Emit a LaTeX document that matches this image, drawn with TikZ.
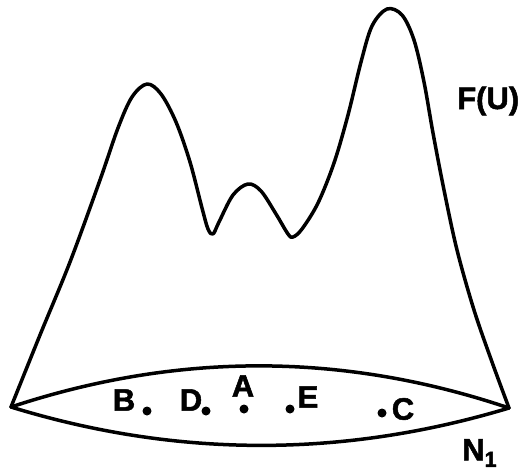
\documentclass[tikz,border=0pt]{standalone}
\usepackage{fontspec}
\setmainfont[FakeBold=1.6]{Liberation Sans}
\begin{document}
\begin{tikzpicture}[x=1pt,y=-1pt,
  curve/.style={line width=3.5pt,line join=round,line cap=round},
  lbl/.style={inner sep=0pt,font=\fontsize{31}{31}\selectfont\bfseries},
  pt/.style={circle,fill=black,inner sep=0pt,minimum size=9pt}]
\useasboundingbox (0,0) rectangle (524,474);
\coordinate (L) at (11,407);
\coordinate (R) at (509,408);
% lens N_1
\draw[curve] (L) .. controls (177,352) and (343,352) .. (R);
\draw[curve] (L) .. controls (177,458) and (343,458) .. (R);
% surface F(U)
\draw[curve] plot[smooth,tension=0.55] coordinates {
 (11,407) (40,335) (70,262) (100,180) (118,128) (132,97) (147,84) (161,94)
 (176,122) (190,162) (202,208) (208,229) (213,234) (219,222) (233,195) (248,184)
 (261,191) (276,214) (288,234) (293,237) (302,229) (318,203) (334,163) (348,115)
 (361,62) (372,26) (387,9) (402,15) (414,40) (424,82) (433,133) (444,190)
 (457,250) (474,310) (492,362) (509,408)};
% points
\node[pt] (b) at (147,411) {};
\node[pt] (d) at (206,411) {};
\node[pt] (a) at (244,409) {};
\node[pt] (e) at (290,409) {};
\node[pt] (c) at (382,413) {};
\node[lbl] (lb) at (124,400) {B};
\node[lbl] (ld) at (191,400) {D};
\node[lbl] (la) at (243,386) {A};
\node[lbl] (le) at (308,397) {E};
\node[lbl] (lc) at (403,409) {C};
\node[lbl,anchor=west] (fu) at (457,101) {F(U)};
\node[lbl,anchor=west] (n1) at (462,453) {N\textsubscript{1}};
\end{tikzpicture}
\end{document}
